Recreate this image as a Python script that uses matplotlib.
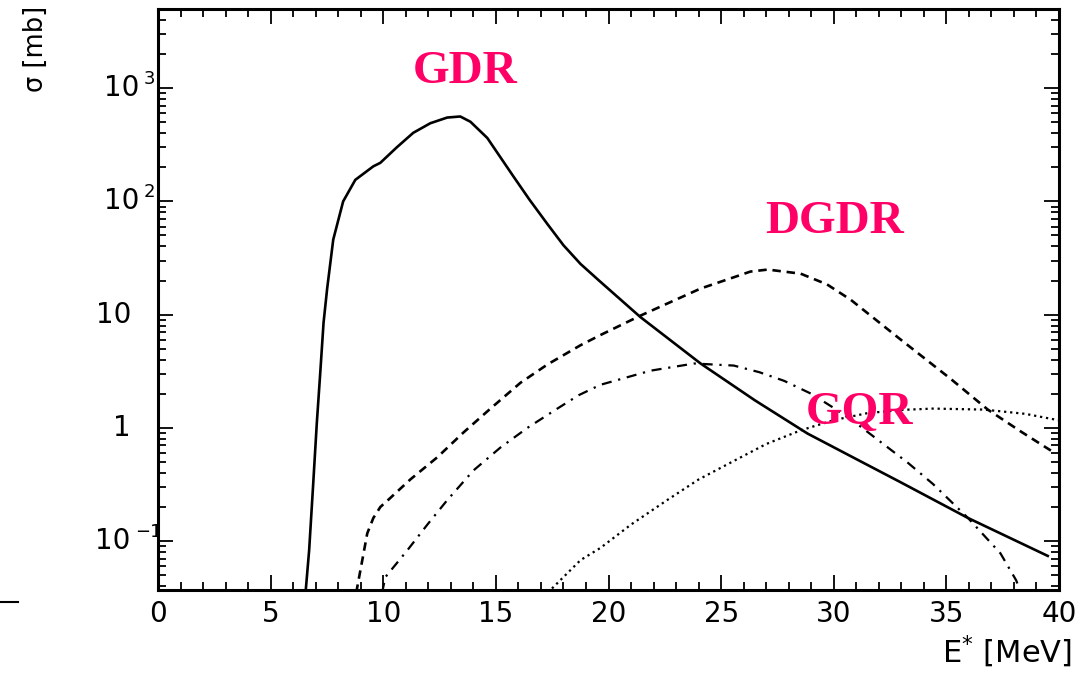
import matplotlib
matplotlib.use("Agg")
import matplotlib.pyplot as plt
from matplotlib.lines import Line2D
from matplotlib.transforms import blended_transform_factory, offset_copy
from matplotlib.ticker import FixedLocator, LogLocator, MultipleLocator, NullFormatter

# ---- data ----
gdr_E = [6.55, 6.71, 6.89, 7.05, 7.2, 7.35, 7.51, 7.78, 8.22, 8.76, 9.56, 9.87, 10.6,
         11.33, 12.09, 12.84, 13.42, 13.87, 14.62, 15.78, 16.5, 17.29, 18.0, 18.76, 19.64, 21.42, 24.09,
         26.5, 28.84, 31.0, 32.98, 35.96, 39.5]
gdr_s = [0.035, 0.083, 0.32, 1.1, 3.0, 8.5, 17, 46, 100, 155, 204, 219, 300,
         403, 490, 550, 562, 505, 363, 166, 103, 63, 41, 28, 19.5, 9.5, 3.7,
         1.75, 0.89, 0.53, 0.33, 0.16, 0.074]

dgdr_E = [8.80, 9.07, 9.29, 9.56, 9.87, 10.31, 11.2, 12.4, 13.56, 14.76, 16.09, 17.29, 18.76,
          19.64, 21.42, 24.09, 25.6, 26.3, 27.07, 28.53, 29.7, 30.76, 32.98, 35.2, 36.84, 38.3, 39.64]
dgdr_s = [0.035, 0.068, 0.117, 0.16, 0.2, 0.24, 0.35, 0.55, 0.91, 1.48, 2.5, 3.63, 5.37,
          6.6, 9.8, 17, 21.5, 24, 25, 23, 18.5, 13.5, 6.0, 2.7, 1.45, 0.93, 0.63]

gmr_E = [9.95, 10.09, 11.07, 11.96, 12.84, 14.0, 15.2, 16.4, 17.73, 18.67, 19.64, 21.87, 23.8,
         25.56, 26.7, 27.8, 29.0, 30.0, 31.1, 32.2, 33.3, 34.4, 35.96, 37.4, 38.1, 38.3]
gmr_s = [0.035, 0.048, 0.083, 0.14, 0.23, 0.42, 0.67, 1.0, 1.48, 1.94, 2.4, 3.2, 3.7,
         3.55, 3.1, 2.6, 2.0, 1.5, 1.06, 0.72, 0.49, 0.32, 0.16, 0.078, 0.045, 0.035]

gqr_E = [17.3, 18.76, 19.64, 21.0, 22.6, 24.0, 25.56, 27.0, 28.53, 30.0, 31.5, 33.0, 34.4,
         36.67, 38.5, 39.96]
gqr_s = [0.035, 0.068, 0.087, 0.14, 0.23, 0.35, 0.51, 0.72, 0.95, 1.17, 1.35, 1.44, 1.48,
         1.45, 1.33, 1.17]

labels = ["GDR", "DGDR", "GQR"]
label_pos = [(13.64, 1400), (30.04, 66), (31.16, 1.34)]

ytick_vals = [0.1, 1, 10, 100, 1000]
ytick_base = ["10", "1", "10", "10", "10"]
ytick_exp = ["−1", "", "", "2", "3"]
xtick_vals = [0, 5, 10, 15, 20, 25, 30, 35, 40]

plt.rcParams['font.family'] = ['DejaVu Sans']

fig = plt.figure(figsize=(10.8, 6.76), dpi=100)
ax = fig.add_axes([158/1080, 1 - 590/676, (1059-158)/1080, (590-9)/676])

lw = 1.9
ax.plot(gdr_E, gdr_s, color='black', lw=lw, solid_joinstyle='round')
ax.plot(dgdr_E, dgdr_s, color='black', lw=lw, linestyle=(0, (3.2, 2.2)))
ax.plot(gmr_E, gmr_s, color='black', lw=lw * 0.85, linestyle=(0, (4.5, 3.0, 1, 3.0)))
ax.plot(gqr_E, gqr_s, color='black', lw=lw * 0.85, linestyle=(0, (1.0, 1.7)))

ax.set_yscale('log')
ax.set_xlim(0, 40)
ax.set_ylim(0.037, 5000)

ax.xaxis.set_major_locator(FixedLocator(xtick_vals))
ax.xaxis.set_minor_locator(MultipleLocator(1))
ax.set_xticklabels([str(v) for v in xtick_vals])
ax.yaxis.set_major_locator(FixedLocator(ytick_vals))
ax.yaxis.set_minor_locator(LogLocator(base=10, subs=range(2, 10)))
ax.yaxis.set_minor_formatter(NullFormatter())
ax.set_yticklabels([])

ax.tick_params(which='both', direction='in', top=True, right=True, width=1.3)
ax.tick_params(which='major', length=11)
ax.tick_params(which='minor', length=5.5)
ax.tick_params(axis='x', labelsize=20, pad=7)
for sp in ax.spines.values():
    sp.set_linewidth(2.2)

# y tick labels (PAW style: superscripted labels extend further right)
trans = blended_transform_factory(fig.transFigure, ax.transData)
for v, b, e in zip(ytick_vals, ytick_base, ytick_exp):
    if e:
        exp_w = 13 * len(e) if e != "−1" else 22
        xb = (152 - exp_w) / 1080
        ax.text(xb, v, b, transform=trans, ha='right', va='center', fontsize=20)
        ax.text(xb + 5/1080, v, e, transform=offset_copy(trans, fig=fig, x=0, y=4, units='dots'),
                ha='left', va='baseline', fontsize=13)
    else:
        ax.text(131/1080, v, b, transform=trans, ha='right', va='center', fontsize=20)

fig.text(1072/1080, 1 - 652/676, r"E$^{*}$ [MeV]", ha='right', va='center', fontsize=22)
fig.text(36/1080, 1 - 49/676, "σ [mb]", ha='center', va='center', rotation=90, fontsize=18.5)

pink = '#FF0066'
for lab, (xx, yy) in zip(labels, label_pos):
    ax.text(xx, yy, lab, color=pink, fontsize=34, fontweight='bold', family='Liberation Serif',
            ha='center', va='center')

fig.add_artist(Line2D([0, 18/1080], [1 - 602/676, 1 - 602/676], color='black', lw=1.5))

fig.savefig('out.png', dpi=100)
